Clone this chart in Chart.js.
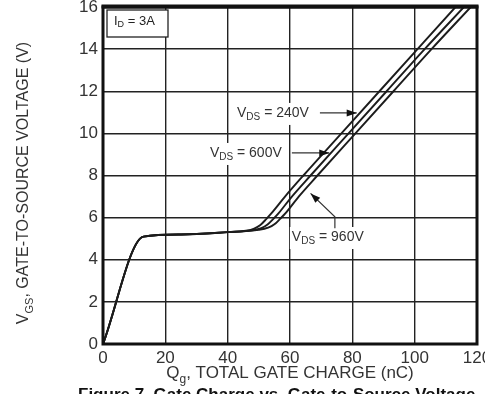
<!DOCTYPE html>
<html>
<head>
<meta charset="utf-8">
<script src="https://cdn.jsdelivr.net/npm/chart.js@4.4.1/dist/chart.umd.min.js"></script>
<style>
  html, body { margin: 0; padding: 0; background: #fff; }
  #wrap { width: 485px; height: 394px; overflow: hidden; }
</style>
</head>
<body>
<div id="wrap"><canvas id="gateChart" width="485" height="394"></canvas></div>
<script>
// --- Data ---
const xTicks = [0, 20, 40, 60, 80, 100, 120];
const yTicks = [0, 2, 4, 6, 8, 10, 12, 14, 16];

const q240 = [0, 13, 25, 40, 46, 48.5, 50.5, 52.3, 54, 58.4, 64.3, 76.5, 88.7, 100.9, 113.1];
const v240 = [0, 5.1, 5.2, 5.31, 5.38, 5.48, 5.65, 5.92, 6.2, 7, 8, 10, 12, 14, 16];

const q600 = [0, 13, 25, 40, 48, 50.8, 52.8, 54.6, 56.3, 60.6, 66.6, 78.8, 91, 103.2, 115.8];
const v600 = [0, 5.1, 5.2, 5.31, 5.4, 5.5, 5.67, 5.93, 6.2, 7, 8, 10, 12, 14, 16];

const q960 = [0, 13, 25, 40, 50, 53, 55, 56.8, 58.5, 62.8, 68.8, 81, 93.2, 105.4, 118];
const v960 = [0, 5.1, 5.2, 5.31, 5.42, 5.52, 5.68, 5.94, 6.2, 7, 8, 10, 12, 14, 16];

// label anchor (data units) and arrow tail/tip for each curve
const labels = [
    { vds: '240V', at: [43, 10.97], arrow: [[69.6, 10.97], [81.4, 10.97]] },
    { vds: '600V', at: [34.3, 9.07], arrow: [[60.6, 9.07], [72.6, 9.07]] },
    { vds: '960V', at: [60.6, 5.08], arrow: [[74.4, 5.5], [74.4, 6.04], [66.6, 7.15]] }
];

const FONT = '"Liberation Sans", Arial, sans-serif';
const INK = '#1c1c1c';

function toPts(xs, ys) {
    return xs.map((x, i) => ({ x: x, y: ys[i] }));
}

// text made of normal / subscript parts
function partsWidth(ctx, parts, size) {
    let w = 0;
    parts.forEach(p => {
        ctx.font = (p.sub ? Math.round(size * 0.7) : size) + 'px ' + FONT;
        w += ctx.measureText(p.t).width;
    });
    return w;
}

function drawParts(ctx, parts, x, y, size) {
    let cx = x;
    parts.forEach(p => {
        const s = p.sub ? Math.round(size * 0.7) : size;
        ctx.font = s + 'px ' + FONT;
        ctx.fillText(p.t, cx, p.sub ? y + size * 0.3 : y);
        cx += ctx.measureText(p.t).width;
    });
    return cx - x;
}

function arrowHead(ctx, from, to) {
    const ang = Math.atan2(to[1] - from[1], to[0] - from[0]);
    const len = 10, half = 3.5;
    ctx.beginPath();
    ctx.moveTo(to[0], to[1]);
    ctx.lineTo(to[0] - len * Math.cos(ang) + half * Math.sin(ang), to[1] - len * Math.sin(ang) - half * Math.cos(ang));
    ctx.lineTo(to[0] - len * Math.cos(ang) - half * Math.sin(ang), to[1] - len * Math.sin(ang) + half * Math.cos(ang));
    ctx.closePath();
    ctx.fill();
}

const decorPlugin = {
    id: 'decor',
    afterDatasetsDraw(chart) {
        const ctx = chart.ctx;
        const xs = chart.scales.x, ys = chart.scales.y;
        const area = chart.chartArea;
        ctx.save();

        // curve labels with white backing and arrows
        labels.forEach(l => {
            const parts = [{ t: 'V' }, { t: 'DS', sub: true }, { t: ' = ' + l.vds }];
            const px = xs.getPixelForValue(l.at[0]);
            const py = ys.getPixelForValue(l.at[1]);
            const w = partsWidth(ctx, parts, 14);
            ctx.fillStyle = '#fff';
            ctx.fillRect(px - 2, py - 10, w + 4, 22);
            ctx.fillStyle = '#333';
            ctx.textBaseline = 'middle';
            ctx.textAlign = 'left';
            drawParts(ctx, parts, px, py, 14);

            const pts = l.arrow.map(p => [xs.getPixelForValue(p[0]), ys.getPixelForValue(p[1])]);
            ctx.strokeStyle = '#333';
            ctx.lineWidth = 1.2;
            ctx.beginPath();
            ctx.moveTo(pts[0][0], pts[0][1]);
            for (let i = 1; i < pts.length; i++) ctx.lineTo(pts[i][0], pts[i][1]);
            ctx.stroke();
            ctx.fillStyle = '#111';
            arrowHead(ctx, pts[pts.length - 2], pts[pts.length - 1]);
        });

        // I_D box
        const bx = area.left + 4, by = area.top + 3;
        ctx.fillStyle = '#fff';
        ctx.fillRect(bx, by, 61, 27);
        ctx.strokeStyle = '#222';
        ctx.lineWidth = 1.3;
        ctx.strokeRect(bx, by, 61, 27);
        ctx.fillStyle = '#222';
        ctx.textBaseline = 'middle';
        drawParts(ctx, [{ t: 'I' }, { t: 'D', sub: true }, { t: ' = 3A' }], bx + 7, by + 11, 13);

        // frame
        ctx.strokeStyle = '#111';
        ctx.lineWidth = 3;
        ctx.strokeRect(area.left, area.top, area.right - area.left, area.bottom - area.top);
        ctx.lineWidth = 4;
        ctx.beginPath();
        ctx.moveTo(area.left - 1.5, area.top - 0.5);
        ctx.lineTo(area.right + 1.5, area.top - 0.5);
        ctx.stroke();

        // axis titles
        ctx.fillStyle = '#333';
        ctx.textBaseline = 'alphabetic';
        const xt = [{ t: 'Q' }, { t: 'g', sub: true }, { t: ', TOTAL GATE CHARGE (nC)' }];
        const xw = partsWidth(ctx, xt, 17);
        drawParts(ctx, xt, (area.left + area.right) / 2 - xw / 2, 378, 17);

        const yt = [{ t: 'V' }, { t: 'GS', sub: true }, { t: ', GATE-TO-SOURCE VOLTAGE (V)' }];
        const yw = partsWidth(ctx, yt, 16);
        ctx.save();
        ctx.translate(28, 183);
        ctx.rotate(-Math.PI / 2);
        drawParts(ctx, yt, -yw / 2, 0, 16);
        ctx.restore();

        // caption, mostly cut off by the bottom edge
        ctx.fillStyle = '#111';
        ctx.font = 'bold 17px ' + FONT;
        ctx.textBaseline = 'top';
        ctx.fillText('Figure 7. Gate Charge vs. Gate-to-Source Voltage', 78, 387);

        ctx.restore();
    }
};

const lineStyle = {
    borderColor: INK,
    borderWidth: 1.9,
    pointRadius: 0,
    fill: false,
    cubicInterpolationMode: 'monotone'
};

new Chart(document.getElementById('gateChart'), {
    type: 'line',
    data: {
        datasets: [
            Object.assign({ label: 'VDS = 240V', data: toPts(q240, v240) }, lineStyle),
            Object.assign({ label: 'VDS = 600V', data: toPts(q600, v600) }, lineStyle),
            Object.assign({ label: 'VDS = 960V', data: toPts(q960, v960) }, lineStyle)
        ]
    },
    options: {
        responsive: false,
        animation: false,
        layout: { padding: { top: 7, right: 8, bottom: 0, left: 0 } },
        plugins: { legend: { display: false }, tooltip: { enabled: false } },
        scales: {
            x: {
                type: 'linear',
                min: xTicks[0],
                max: xTicks[xTicks.length - 1],
                afterBuildTicks: s => { s.ticks = xTicks.map(v => ({ value: v })); },
                ticks: { color: '#333', font: { family: FONT, size: 17 }, padding: 4, maxRotation: 0, autoSkip: false },
                grid: { color: '#222', lineWidth: 1.4, drawTicks: false },
                border: { display: false },
                afterFit: s => { s.paddingLeft = 0; s.paddingRight = 0; s.height = 50; }
            },
            y: {
                min: yTicks[0],
                max: yTicks[yTicks.length - 1],
                afterBuildTicks: s => { s.ticks = yTicks.map(v => ({ value: v })); },
                ticks: { color: '#333', font: { family: FONT, size: 17 }, padding: 5 },
                grid: { color: '#222', lineWidth: 1.4, drawTicks: false },
                border: { display: false },
                afterFit: s => { s.width = 103; s.paddingTop = 0; s.paddingBottom = 0; }
            }
        }
    },
    plugins: [decorPlugin]
});
</script>
</body>
</html>
